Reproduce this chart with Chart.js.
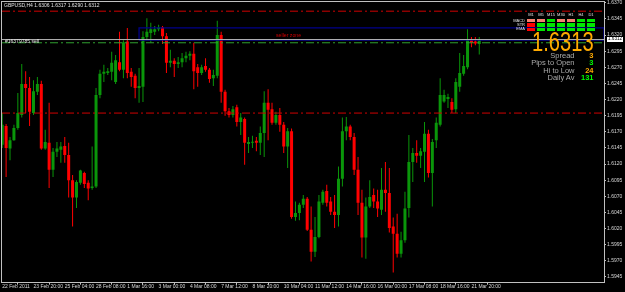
<!DOCTYPE html>
<html>
<head>
<meta charset="utf-8">
<script src="https://cdn.jsdelivr.net/npm/chart.js@4.4.1/dist/chart.umd.min.js"></script>
<style>
    html, body { margin: 0; padding: 0; background: #000; }
    #wrap { position: relative; width: 625px; height: 292px; overflow: hidden; font-family: 'Liberation Sans', Arial, sans-serif; }
    #grafik { position: absolute; left: 0; top: 0; }
    .lbl { position: absolute; white-space: nowrap; line-height: 1; }
    .sel { position: absolute; }
</style>
</head>
<body>
<div id="wrap">
    <canvas id="grafik" width="625" height="292"></canvas>
</div>
<script>
// GBPUSD H4 candles
const opens = [1.6150,1.6179,1.6144,1.6157,1.6176,1.6196,1.6244,1.6238,1.6199,1.6232,
    1.6244,1.6144,1.6153,1.6111,1.6139,1.6142,1.6148,1.6134,1.6095,1.6068,
    1.6091,1.6106,1.6091,1.6083,1.6085,1.6227,1.6260,1.6261,1.6263,1.6247,
    1.6278,1.6266,1.6310,1.6263,1.6257,1.6238,1.6240,1.6317,1.6323,1.6325,
    1.6329,1.6332,1.6318,1.6277,1.6280,1.6275,1.6278,1.6284,1.6288,1.6291,
    1.6270,1.6261,1.6272,1.6266,1.6253,1.6257,1.6320,1.6232,1.6202,1.6196,
    1.6208,1.6185,1.6190,1.6151,1.6153,1.6156,1.6153,1.6168,1.6215,1.6205,
    1.6184,1.6196,1.6181,1.6147,1.6171,1.6038,1.6044,1.6057,1.6066,1.6018,
    1.5984,1.6007,1.6060,1.6078,1.6062,1.6046,1.6041,1.6097,1.6171,1.6178,
    1.6162,1.6111,1.6060,1.6006,1.6054,1.6072,1.6062,1.6049,1.6080,1.6075,
    1.6023,1.6012,1.5981,1.6002,1.6052,1.6123,1.6137,1.6133,1.6139,1.6167,
    1.6106,1.6157,1.6181,1.6217,1.6221,1.6216,1.6205,1.6240,1.6260,1.6270,
    1.6312,1.6310,1.6306];
const highs = [1.6199,1.6182,1.6162,1.6181,1.6230,1.6275,1.6264,1.6255,1.6250,1.6255,
    1.6249,1.6173,1.6215,1.6145,1.6154,1.6154,1.6162,1.6153,1.6103,1.6095,
    1.6111,1.6108,1.6095,1.6147,1.6238,1.6266,1.6274,1.6269,1.6294,1.6289,
    1.6325,1.6312,1.6331,1.6269,1.6260,1.6269,1.6326,1.6346,1.6339,1.6334,
    1.6336,1.6334,1.6323,1.6297,1.6284,1.6286,1.6292,1.6294,1.6295,1.6308,
    1.6275,1.6274,1.6284,1.6269,1.6266,1.6342,1.6325,1.6235,1.6207,1.6210,
    1.6212,1.6199,1.6192,1.6162,1.6164,1.6162,1.6178,1.6233,1.6236,1.6215,
    1.6201,1.6207,1.6185,1.6176,1.6175,1.6062,1.6060,1.6072,1.6069,1.6054,
    1.6038,1.6072,1.6080,1.6088,1.6069,1.6072,1.6116,1.6192,1.6193,1.6181,
    1.6168,1.6131,1.6080,1.6068,1.6095,1.6082,1.6080,1.6114,1.6123,1.6114,
    1.6037,1.6043,1.6015,1.6077,1.6165,1.6145,1.6157,1.6145,1.6185,1.6173,
    1.6159,1.6192,1.6253,1.6235,1.6229,1.6222,1.6253,1.6292,1.6289,1.6329,
    1.6317,1.6317,1.6317];
const lows = [1.6145,1.6100,1.6126,1.6156,1.6173,1.6192,1.6199,1.6179,1.6196,1.6227,
    1.6142,1.6142,1.6083,1.6100,1.6131,1.6122,1.6122,1.6068,1.6023,1.6052,
    1.6088,1.6083,1.6064,1.6080,1.6083,1.6222,1.6247,1.6258,1.6250,1.6244,
    1.6264,1.6253,1.6253,1.6240,1.6222,1.6215,1.6216,1.6312,1.6308,1.6320,
    1.6326,1.6306,1.6261,1.6270,1.6255,1.6269,1.6270,1.6278,1.6281,1.6236,
    1.6240,1.6258,1.6263,1.6246,1.6241,1.6253,1.6215,1.6195,1.6192,1.6192,
    1.6178,1.6165,1.6119,1.6137,1.6145,1.6140,1.6134,1.6131,1.6157,1.6181,
    1.6181,1.6170,1.6137,1.6114,1.6035,1.6032,1.6033,1.6052,1.6016,1.5969,
    1.5976,1.6005,1.6057,1.6054,1.6041,1.6021,1.6023,1.6085,1.6157,1.6157,
    1.6103,1.6041,1.5975,1.5973,1.6052,1.6052,1.6038,1.6041,1.6046,1.6014,
    1.5952,1.5975,1.5975,1.5998,1.6037,1.6092,1.6122,1.6114,1.6092,1.6099,
    1.6054,1.6145,1.6178,1.6215,1.6207,1.6199,1.6199,1.6232,1.6257,1.6267,
    1.6301,1.6304,1.6290];
const closes = [1.6181,1.6145,1.6157,1.6176,1.6199,1.6244,1.6238,1.6201,1.6233,1.6244,
    1.6144,1.6154,1.6111,1.6139,1.6144,1.6147,1.6134,1.6095,1.6068,1.6092,
    1.6110,1.6089,1.6082,1.6085,1.6227,1.6260,1.6263,1.6264,1.6277,1.6281,
    1.6266,1.6309,1.6261,1.6255,1.6238,1.6241,1.6317,1.6325,1.6329,1.6329,
    1.6332,1.6318,1.6277,1.6280,1.6275,1.6278,1.6284,1.6288,1.6291,1.6264,
    1.6261,1.6270,1.6266,1.6252,1.6258,1.6320,1.6232,1.6202,1.6196,1.6205,
    1.6185,1.6192,1.6153,1.6154,1.6154,1.6153,1.6168,1.6215,1.6204,1.6184,
    1.6196,1.6181,1.6147,1.6171,1.6038,1.6044,1.6057,1.6066,1.6018,1.5984,
    1.6007,1.6062,1.6077,1.6060,1.6046,1.6041,1.6097,1.6171,1.6178,1.6162,
    1.6111,1.6060,1.6006,1.6054,1.6069,1.6062,1.6051,1.6080,1.6075,1.6021,
    1.6012,1.5981,1.6002,1.6051,1.6123,1.6137,1.6133,1.6140,1.6167,1.6106,
    1.6154,1.6184,1.6227,1.6227,1.6224,1.6204,1.6247,1.6261,1.6272,1.6312,
    1.6308,1.6307,1.6312];

// time labels every 8 bars
const tickBars = [0, 8, 16, 24, 32, 40, 48, 56, 64, 72, 80, 88, 96, 104, 112, 120];
const tickLabels = ['22 Feb 2011', '23 Feb 20:00', '25 Feb 04:00', '28 Feb 08:00', '1 Mar 16:00',
    '3 Mar 00:00', '4 Mar 08:00', '7 Mar 12:00', '8 Mar 20:00', '10 Mar 04:00', '11 Mar 12:00',
    '14 Mar 16:00', '16 Mar 00:00', '17 Mar 08:00', '18 Mar 16:00', '21 Mar 20:00'];
const priceTicks = [1.5945, 1.5970, 1.5995, 1.6020, 1.6045, 1.6070, 1.6095, 1.6120, 1.6145,
    1.6170, 1.6195, 1.6220, 1.6245, 1.6270, 1.6295, 1.6320, 1.6345, 1.6370];

// horizontal objects on the chart
const redLevels = [1.6357, 1.6199];
const greenLevel = 1.6308;
const orderLevel = 1.6313;
const zoneTop = 1.6331;
const zoneBottom = 1.6312;
const zoneStartBar = 35;

const xMin = -0.05, xMax = 153.9;
const yMin = 1.5936, yMax = 1.6372;

const hijau = '#0a960a';
const merah = '#ff0000';

document.addEventListener('DOMContentLoaded', () => {
    const wrap = document.getElementById('wrap');
    const idx = closes.map((_, i) => i);
    const warnaCandle = idx.map(i => closes[i] >= opens[i] ? hijau : merah);

    const garis = (nilai, warna, dash) => ({
        type: 'line',
        data: [{ x: xMin, y: nilai }, { x: xMax, y: nilai }],
        borderColor: warna,
        borderWidth: 1,
        borderDash: dash,
        pointRadius: 0,
        fill: false,
        order: -1
    });

    const datasets = [
        {
            type: 'bar',
            data: idx.map(i => ({ x: i, y: [lows[i], highs[i]] })),
            backgroundColor: warnaCandle,
            barThickness: 1,
            inflateAmount: 0,
            grouped: false,
            order: 1
        },
        {
            type: 'bar',
            data: idx.map(i => ({ x: i, y: [opens[i], closes[i]] })),
            backgroundColor: warnaCandle,
            barThickness: 3,
            minBarLength: 1,
            inflateAmount: 0,
            grouped: false,
            order: 0
        },
        ...redLevels.map(v => garis(v, '#d00000', [8, 3, 2, 3])),
        garis(greenLevel, '#30a030', [8, 3, 2, 3]),
        garis(orderLevel, '#b4b4b4', []),
        {
            type: 'line',
            data: [
                { x: zoneStartBar, y: zoneBottom }, { x: zoneStartBar, y: zoneTop },
                { x: xMax, y: zoneTop }, { x: xMax, y: zoneBottom }, { x: zoneStartBar, y: zoneBottom }
            ],
            borderColor: '#00008b',
            borderWidth: 1.3,
            pointRadius: 0,
            fill: false,
            order: -1
        }
    ];

    // frame around the chart area
    const bingkai = {
        id: 'bingkai',
        afterDraw(chart) {
            const { ctx, chartArea: a } = chart;
            ctx.save();
            ctx.strokeStyle = '#c0c0c0';
            ctx.lineWidth = 1;
            const x1 = Math.floor(a.left) - 0.5, y1 = Math.floor(a.top) + 0.5;
            const x2 = Math.round(a.right) + 0.5, y2 = Math.floor(a.bottom) + 0.5;
            ctx.strokeRect(x1, y1, x2 - x1, y2 - y1);
            ctx.restore();
        }
    };

    Chart.defaults.font.family = "'Liberation Sans', Arial, sans-serif";

    new Chart(document.getElementById('grafik').getContext('2d'), {
        type: 'bar',
        data: { datasets },
        options: {
            responsive: false,
            animation: false,
            devicePixelRatio: 1,
            layout: { padding: { top: 1.5, left: 2, right: 0, bottom: 0 } },
            plugins: { legend: { display: false }, tooltip: { enabled: false } },
            scales: {
                x: {
                    type: 'linear',
                    min: xMin,
                    max: xMax,
                    offset: false,
                    afterBuildTicks: s => { s.ticks = tickBars.map(v => ({ value: v })); },
                    afterFit: s => { s.height = 9.3; s.paddingLeft = 0; s.paddingRight = 0; },
                    ticks: {
                        autoSkip: false,
                        maxRotation: 0,
                        minRotation: 0,
                        align: 'start',
                        padding: -1,
                        color: '#d8d8d8',
                        font: { size: 5 },
                        callback: (v, i) => tickLabels[i]
                    },
                    grid: { drawOnChartArea: false, tickLength: 2, color: '#c0c0c0' },
                    border: { display: false }
                },
                y: {
                    position: 'right',
                    min: yMin,
                    max: yMax,
                    afterBuildTicks: s => { s.ticks = priceTicks.map(v => ({ value: v })); },
                    afterFit: s => { s.width = 21; s.paddingTop = 0; s.paddingBottom = 0; },
                    ticks: {
                        padding: 1,
                        color: '#d8d8d8',
                        font: { size: 5 },
                        callback: v => v.toFixed(4)
                    },
                    grid: { drawOnChartArea: false, tickLength: 2, color: '#c0c0c0' },
                    border: { display: false }
                }
            }
        },
        plugins: [bingkai]
    });

    // text overlays (x = anchor, baseline in px)
    function teks(str, x, baseline, size, color, align, extra) {
        const d = document.createElement('div');
        d.className = 'lbl';
        d.textContent = str;
        d.style.fontSize = size + 'px';
        d.style.color = color;
        d.style.top = (baseline - 0.8465 * size) + 'px';
        if (align === 'right') d.style.right = (625 - x) + 'px';
        else if (align === 'center') { d.style.left = x + 'px'; d.style.transform = 'translateX(-50%)'; }
        else d.style.left = x + 'px';
        if (extra) Object.assign(d.style, extra);
        wrap.appendChild(d);
    }

    teks('GBPUSD,H4  1.6306 1.6317 1.6290 1.6312', 4, 7.2, 5, '#e0e0e0');
    teks('#16379785 sell', 5, 42.8, 5, '#e8e8e8');
    teks('seller zone', 276, 37.3, 5.2, '#d00000');

    // signal panel
    const kolom = ['M1', 'M5', 'M15', 'M30', 'H1', 'H4', 'D1'];
    const baris = ['MACD', 'STR', 'EMA'];
    const sinyal = [
        ['#f58070', '#f58070', '#00e600', '#f58070', '#f58070', '#00e600', '#00e600'],
        ['#ff0000', '#00e600', '#00e600', '#00e600', '#00e600', '#00e600', '#00e600'],
        ['#ff0000', '#00e600', '#00e600', '#00e600', '#00e600', '#00e600', '#00e600']
    ];
    const barisY = [19, 23.3, 27.7];
    kolom.forEach((k, j) => teks(k, 531 + j * 10, 16.8, 4, '#e0e0e0', 'center'));
    baris.forEach((b, r) => {
        teks(b, 525, barisY[r] + 3, 4, '#e0e0e0', 'right');
        sinyal[r].forEach((c, j) => {
            const s = document.createElement('div');
            s.className = 'sel';
            Object.assign(s.style, {
                left: (526.7 + j * 10) + 'px', top: barisY[r] + 'px',
                width: '8.6px', height: '3.3px', background: c
            });
            wrap.appendChild(s);
        });
    });

    teks('1.6313', 593.5, 51.8, 28, '#ffaa00', 'right', { transform: 'scaleX(0.72)', transformOrigin: 'right center' });

    const info = [['Spread', '3', '#ffaa00'], ['Pips to Open', '3', '#00ff00'], ['Hi to Low', '24', '#ffaa00'], ['Daily Av', '131', '#00ff00']];
    info.forEach(([lab, val, warna], i) => {
        const base = 58.4 + i * 7.4;
        teks(lab, 574.5, base, 7.5, '#aaaaaa', 'right');
        teks(val, 593.5, base, 7.5, warna, 'right', { fontWeight: 'bold' });
    });

    // current price tag on the axis
    teks('1.6312', 607, 41, 4.6, '#000', 'left', { background: '#fff', padding: '0 1px', lineHeight: '4.4px' });
});
</script>
</body>
</html>
